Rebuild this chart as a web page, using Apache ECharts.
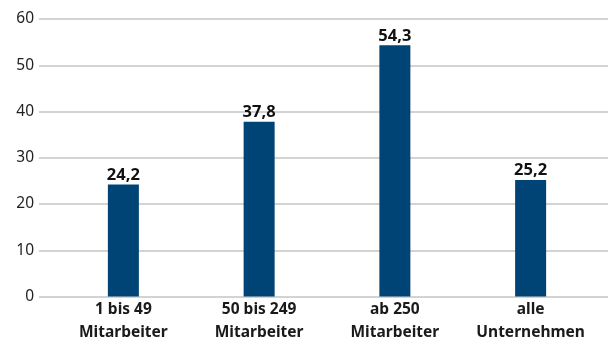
<!DOCTYPE html>
<html>
<head>
    <meta charset="utf-8">
    <script src="https://cdn.jsdelivr.net/npm/echarts@6/dist/echarts.min.js"></script>
    <style>
        html, body { margin: 0; padding: 0; background: #ffffff; }
        #chart { width: 613px; height: 345px; }
    </style>
</head>
<body>
    <div id="chart"></div>
    <script>
        var categories = ['1 bis 49\nMitarbeiter', '50 bis 249\nMitarbeiter', 'ab 250\nMitarbeiter', 'alle\nUnternehmen'];
        var values = [24.2, 37.8, 54.3, 25.2];
        var yTicks = [0, 10, 20, 30, 40, 50, 60];

        var chart = echarts.init(document.getElementById('chart'));
        var font = '"Noto Sans", sans-serif';

        var option = {
            animation: false,
            grid: [
                // gridlines + y labels (lines run wider than the bar band)
                { left: 39, right: 5, top: 19, bottom: 48.5 },
                // bars
                { left: 55.5, right: 14.5, top: 19, bottom: 48.5 }
            ],
            xAxis: [
                { type: 'value', gridIndex: 0, show: false, min: 0, max: 1 },
                {
                    type: 'category', gridIndex: 1, data: categories,
                    axisLine: { show: false }, axisTick: { show: false },
                    axisLabel: {
                        color: '#1a1a1a', fontFamily: font, fontWeight: 'bold',
                        fontSize: 15.5, lineHeight: 23, margin: 2, interval: 0
                    }
                }
            ],
            yAxis: [
                {
                    type: 'value', gridIndex: 0,
                    min: yTicks[0], max: yTicks[yTicks.length - 1], interval: 10,
                    axisLine: { show: false }, axisTick: { show: false },
                    axisLabel: { color: '#222', fontFamily: font, fontSize: 15.5, margin: 5 },
                    splitLine: { lineStyle: { color: '#c4c4c4', width: 1.5 } }
                },
                {
                    type: 'value', gridIndex: 1, min: 0, max: 60, interval: 10, show: false
                }
            ],
            series: [{
                type: 'bar',
                xAxisIndex: 1, yAxisIndex: 1,
                data: values,
                barWidth: 31,
                itemStyle: { color: '#004375' },
                label: {
                    show: true, position: 'top', distance: 1,
                    color: '#111', fontFamily: font, fontWeight: 'bold', fontSize: 16.5,
                    formatter: function (p) { return String(p.value).replace('.', ','); }
                }
            }]
        };

        chart.setOption(option);
    </script>
</body>
</html>
